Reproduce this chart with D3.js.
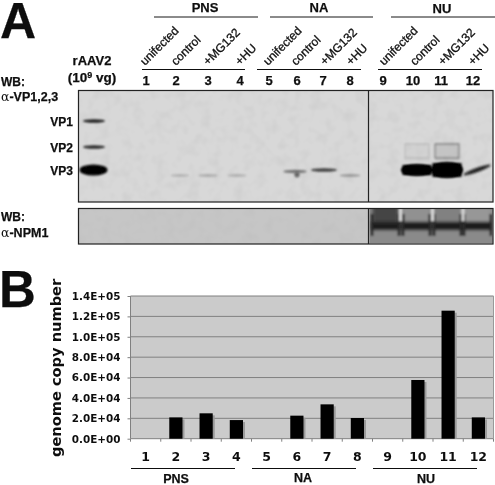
<!DOCTYPE html>
<html><head><meta charset="utf-8">
<script src="https://cdn.jsdelivr.net/npm/d3@7/dist/d3.min.js"></script>
<style>html,body{margin:0;background:#fff}svg{display:block}
text{font-family:"Liberation Sans",Arial,sans-serif;fill:#111}
.b{font-weight:700;stroke:#111;stroke-width:.25}.dv{font-family:"DejaVu Sans",Verdana,sans-serif;font-weight:700}</style>
</head><body><svg id="c" width="495" height="485"></svg>
<script>
// ---- data ----
const lanes = [1,2,3,4,5,6,7,8,9,10,11,12];
const groups = ["PNS","NA","NU"];
const conditions = ["unifected","control","+MG132","+HU"];
const copyNumber = [0,20900,24900,18300,0,22600,33700,20300,0,57600,125600,20900];
const yTicks = [0,20000,40000,60000,80000,100000,120000,140000];
const yTickLabels = ["0.0E+00","2.0E+04","4.0E+04","6.0E+04","8.0E+04","1.0E+05","1.2E+05","1.4E+05"];
const vpRows = ["VP1","VP2","VP3"];
const markerSignal = [0.85,0.8,1];
const vp3Signal = [0,0.07,0.1,0.08,0,0.45,0.7,0.2,0,1,1,0.85];
const vp2Signal = [0,0,0,0,0,0,0,0,0,0.1,0.35,0];
const npmSignal = [0,0,0,0,0,0,0,0,0.95,0.7,0.75,0.68];

// ---- layout ----
const svg = d3.select("#c");
const defs = svg.append("defs");
[["soft",0.35],["b1",1],["b2",1.6],["b3",2.6]].forEach(([id,s])=>
  defs.append("filter").attr("id",id).attr("x","-30%").attr("y","-60%").attr("width","160%").attr("height","220%")
    .append("feGaussianBlur").attr("stdDeviation",s));
const grain = defs.append("filter").attr("id","grain").attr("x",0).attr("y",0).attr("width","100%").attr("height","100%");
grain.append("feTurbulence").attr("type","fractalNoise").attr("baseFrequency",0.09).attr("numOctaves",2).attr("seed",4);
grain.append("feColorMatrix").attr("values","0 0 0 0 0.45  0 0 0 0 0.45  0 0 0 0 0.45  0.5 0 0 0 -0.22");
defs.append("clipPath").attr("id","npmClip").append("rect").attr("x",369.5).attr("y",209).attr("width",123).attr("height",34);
defs.append("clipPath").attr("id","topClip").append("rect").attr("x",79).attr("y",91).attr("width",414).attr("height",111);

const labelX = d3.scaleLinear().domain(lanes).range([146,176,208,240,269,297,323,350,383,413,441,473]);
const gelX = d3.scaleLinear().domain(lanes).range([180,180,208,237,266,295,324,350,385,417,447,477]);
const npmX = d3.scaleLinear().domain(lanes).range([150,179,208,237,266,295,324,350,385.5,416.5,447.5,477.5]);
const vpY = d3.scaleOrdinal().domain(vpRows).range([121,147,170]);

const txt = (g,x,y,s,size,cls,anchor)=>g.append("text").attr("x",x).attr("y",y).attr("font-size",size)
  .attr("class",cls||null).attr("text-anchor",anchor||"start").text(s);

const root = svg.append("g").attr("filter","url(#soft)");

// panel letters
txt(root,0,38,"A",50,"b");
txt(root,-1,307,"B",51,"b");

// ---- panel A header ----
const groupRuleTop = [[154,258],[270,373],[391,495]];
const groupRuleBot = [[142,245],[257,361],[378,482]];
const groupLabelX = [205,319,442];
const groupLabelY = [12,12,13];
groups.forEach((g,i)=>{
  txt(root,groupLabelX[i],groupLabelY[i],g,13,"b","middle");
  root.append("line").attr("x1",groupRuleTop[i][0]).attr("x2",groupRuleTop[i][1]).attr("y1",17).attr("y2",17).attr("stroke","#111").attr("stroke-width",1);
  root.append("line").attr("x1",groupRuleBot[i][0]).attr("x2",groupRuleBot[i][1]).attr("y1",69.5).attr("y2",69.5).attr("stroke","#111").attr("stroke-width",1);
});
const condEnd = [[145,66],[176,66],[208,66],[240,66],[268,66],[296,66],[325,66],[351,66],[384,66],[415,66],[443,66],[473,66]];
lanes.forEach((l,i)=>{
  root.append("text").attr("transform",`translate(${condEnd[i][0]},${condEnd[i][1]}) rotate(-45)`)
    .attr("font-size",12).style("font-weight",500).style("stroke","#111").style("stroke-width",0.3).text(conditions[i%4]);
  txt(root,labelX(l),85,String(l),13,"b","middle");
});
txt(root,92,65,"rAAV2",13,"b","middle");
root.append("text").attr("x",92).attr("y",82).attr("text-anchor","middle").attr("font-size",13.5).attr("class","b")
  .html('(10<tspan font-size="9" dy="-4">9</tspan><tspan dy="4"> vg)</tspan>');

// WB labels
txt(root,1,86,"WB:",12,"b");
const alpha=(y,s)=>{const t=root.append("text").attr("x",1).attr("y",y).attr("font-size",12.5);
  t.append("tspan").style("font-family","'DejaVu Serif',serif").text("α");
  t.append("tspan").attr("class","b").text("-"+s);};
alpha(101,"VP1,2,3");
txt(root,1,221,"WB:",12,"b");
alpha(237,"NPM1");
vpRows.forEach(r=>txt(root,73,vpY(r)+4.5,r,12,"b","end"));

// ---- blots ----
const blotTop=[90.5,202], blotNpm=[208.5,244], blotX=[78.5,368.5,493];
root.append("rect").attr("x",blotX[0]).attr("y",blotTop[0]).attr("width",blotX[2]-blotX[0]).attr("height",blotTop[1]-blotTop[0]).attr("fill","#d8d8d8");
root.append("rect").attr("x",blotX[0]).attr("y",blotNpm[0]).attr("width",blotX[2]-blotX[0]).attr("height",blotNpm[1]-blotNpm[0]).attr("fill","#c6c6c6");
root.append("rect").attr("x",blotX[0]).attr("y",blotTop[0]).attr("width",blotX[2]-blotX[0]).attr("height",blotTop[1]-blotTop[0]).attr("filter","url(#grain)");
root.append("rect").attr("x",blotX[0]).attr("y",blotNpm[0]).attr("width",blotX[2]-blotX[0]).attr("height",blotNpm[1]-blotNpm[0]).attr("filter","url(#grain)");

// marker lane
const gTop = root.append("g").attr("clip-path","url(#topClip)");
vpRows.forEach((r,i)=>{
  const big=r==="VP3";
  gTop.append("ellipse").attr("cx",big?93.5:94).attr("cy",vpY(r)).attr("rx",big?14:11).attr("ry",big?5.6:1.7)
    .attr("fill","#000").attr("opacity",markerSignal[i]).attr("filter","url(#b1)");
});
// VP3 lane bands
const grey=d3.scaleLinear().domain([0,1]).range(["#d6d6d6","#000"]);
const bandW=d3.scaleLinear().domain([0,0.1,0.7,1]).range([8,10,13,16]);
const bandH=d3.scaleLinear().domain([0,0.7,1]).range([1.5,1.8,6]);
lanes.forEach((l,i)=>{
  const s=vp3Signal[i]; if(!s) return;
  const tilt=l===12?-20:0;
  const cy=vpY("VP3")+(s<0.3?5.5:(l===6?1.5:0));
  gTop.append("ellipse").attr("cx",gelX(l)).attr("cy",cy).attr("rx",bandW(s)).attr("ry",l===12?2.2:(l===11?8:bandH(s)))
    .attr("transform",`rotate(${tilt},${gelX(l)},${cy})`)
    .attr("fill",s<0.3?"#9a9a9a":grey(s<0.9?s:1)).attr("opacity",s<0.3?0.3+s*4:1).attr("filter","url(#b1)");
  if(s>=0.9&&l!==12) gTop.append("rect").attr("x",gelX(l)-14.5).attr("y",cy-(l===11?7:5)).attr("width",29).attr("height",l===11?14:10).attr("fill","#050505").attr("filter","url(#b1)");
  if(l===6) gTop.append("ellipse").attr("cx",gelX(l)+2).attr("cy",cy+3).attr("rx",2.6).attr("ry",3).attr("fill","#666").attr("filter","url(#b1)");
});
// VP2 faint doublet outlines
lanes.forEach((l,i)=>{
  const s=vp2Signal[i]; if(!s) return;
  gTop.append("rect").attr("x",gelX(l)-12).attr("y",144).attr("width",24).attr("height",14)
    .attr("fill","none").attr("stroke","#000").attr("stroke-width",1.2).attr("opacity",s*1.1).attr("filter","url(#b1)");
  gTop.append("rect").attr("x",gelX(l)-12).attr("y",143).attr("width",24).attr("height",18)
    .attr("fill","#000").attr("opacity",s*0.25).attr("filter","url(#b1)");
});
// NPM1
const gNpm = root.append("g").attr("clip-path","url(#npmClip)").append("g").attr("filter","url(#b1)");
gNpm.append("rect").attr("x",360).attr("y",200).attr("width",140).attr("height",50).attr("fill","#8a8a8a");
const npmFill=d3.scaleLinear().domain([0.65,0.95]).range(["#a0a0a0","#444"]);
lanes.forEach((l,i)=>{
  const s=npmSignal[i]; if(!s) return;
  const cx=npmX(l);
  gNpm.append("rect").attr("x",cx-13).attr("y",202).attr("width",26).attr("height",22).attr("fill",npmFill(s)).attr("filter","url(#b2)");
  gNpm.append("rect").attr("x",cx-15).attr("y",222).attr("width",30).attr("height",8).attr("fill","#1c1c1c").attr("filter","url(#b1)");
  gNpm.append("rect").attr("x",cx-15).attr("y",214).attr("width",3).attr("height",22).attr("fill","#2c2c2c");
  gNpm.append("rect").attr("x",cx+12).attr("y",214).attr("width",3).attr("height",22).attr("fill","#2c2c2c");
});
[400.5,432.5,463].forEach(v=>gNpm.append("rect").attr("x",v-1.5).attr("y",205).attr("width",3).attr("height",16).attr("fill","#d8d8d8"));
// frames
[blotTop,blotNpm].forEach(b=>{
  root.append("rect").attr("x",blotX[0]).attr("y",b[0]).attr("width",blotX[2]-blotX[0]).attr("height",b[1]-b[0]).attr("fill","none").attr("stroke","#222").attr("stroke-width",1.2);
  root.append("line").attr("x1",blotX[1]).attr("x2",blotX[1]).attr("y1",b[0]).attr("y2",b[1]).attr("stroke","#222").attr("stroke-width",1.2);
});

// ---- panel B ----
const plot={l:130.5,r:493.5,t:296,b:438.7};
const x=d3.scaleBand().domain(lanes).range([plot.l,plot.r]);
const y=d3.scaleLinear().domain([0,140000]).range([plot.b,plot.t]);
root.append("rect").attr("x",plot.l).attr("y",plot.t).attr("width",plot.r-plot.l).attr("height",plot.b-plot.t).attr("fill","#cbcbcb");
root.append("g").selectAll("line").data(yTicks).join("line")
  .attr("x1",plot.l).attr("x2",plot.r).attr("y1",d=>y(d)).attr("y2",d=>y(d)).attr("stroke","#808080").attr("stroke-width",1);
root.append("line").attr("x1",plot.l).attr("x2",plot.l).attr("y1",plot.t).attr("y2",plot.b).attr("stroke","#808080");
root.append("line").attr("x1",plot.r).attr("x2",plot.r).attr("y1",plot.t).attr("y2",plot.b).attr("stroke","#999");
const yAxis=d3.axisLeft(y).tickValues(yTicks).tickFormat((d,i)=>yTickLabels[i]).tickSize(3).tickPadding(7);
const ya=root.append("g").attr("transform",`translate(${plot.l},0)`).call(yAxis);
ya.select(".domain").remove();
ya.selectAll("line").attr("stroke","#808080");
ya.selectAll("text").attr("font-size",10.4).style("font-family","'DejaVu Sans'").style("font-weight",700).style("fill","#111");
const xAxis=d3.axisBottom(x).tickValues(lanes).tickSize(0).tickPadding(13);
const xa=root.append("g").attr("transform",`translate(0,${plot.b})`).call(xAxis);
xa.select(".domain").remove();
xa.selectAll("text").attr("font-size",12.5).style("font-family","'DejaVu Sans'").style("font-weight",700).style("fill","#111");
root.append("g").selectAll("line").data(d3.range(13)).join("line")
  .attr("x1",d=>plot.l+d*x.bandwidth()).attr("x2",d=>plot.l+d*x.bandwidth()).attr("y1",plot.b).attr("y2",plot.b+3).attr("stroke","#808080");
const barW=13.2;
const nz=lanes.map((l,i)=>({l,v:copyNumber[i]})).filter(d=>d.v>0);
root.append("g").selectAll("rect").data(nz).join("rect")
  .attr("x",d=>x(d.l)+x.bandwidth()/2-barW/2+2).attr("y",d=>y(d.v)+2).attr("width",barW).attr("height",d=>plot.b-y(d.v)-2).attr("fill","#9a9a9a");
root.append("g").selectAll("rect").data(nz).join("rect")
  .attr("x",d=>x(d.l)+x.bandwidth()/2-barW/2).attr("y",d=>y(d.v)).attr("width",barW).attr("height",d=>plot.b-y(d.v)).attr("fill","#000");
root.append("text").attr("transform","translate(61,457) rotate(-90)").attr("class","dv").attr("font-size",14.6).style("fill","#111").text("genome copy number");
const bRule=[[131,235],[252,356],[373,477]], bLabel=[[176,483],[303,482],[426,483]];
groups.forEach((g,i)=>{
  root.append("line").attr("x1",bRule[i][0]).attr("x2",bRule[i][1]).attr("y1",468.5).attr("y2",468.5).attr("stroke","#111");
  txt(root,bLabel[i][0],bLabel[i][1],g,12.5,"b","middle");
});
</script></body></html>
